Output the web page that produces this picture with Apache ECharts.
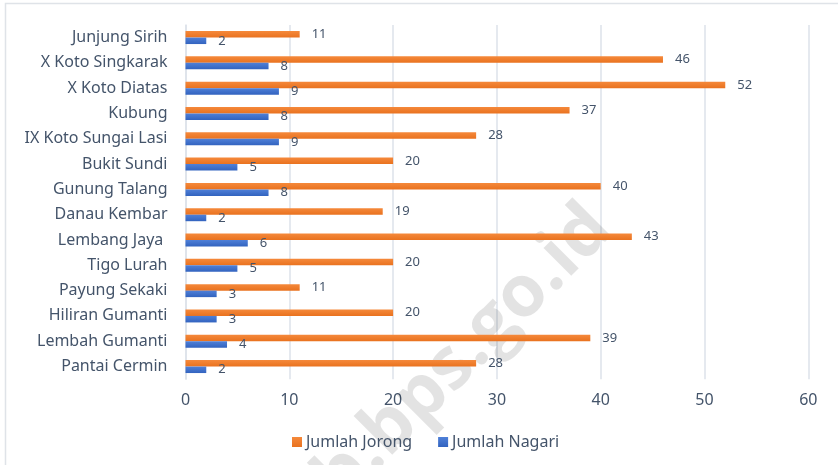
<!DOCTYPE html>
<html>
<head>
<meta charset="utf-8">
<script src="https://cdn.jsdelivr.net/npm/echarts@6/dist/echarts.min.js"></script>
<style>
  html, body { margin: 0; padding: 0; background: #fff; }
  #chart { width: 838px; height: 465px; }
</style>
</head>
<body>
<div id="chart"></div>
<script>
// kecamatan, top to bottom as shown
const categories = [
  'Junjung Sirih', 'X Koto Singkarak', 'X Koto Diatas', 'Kubung',
  'IX Koto Sungai Lasi', 'Bukit Sundi', 'Gunung Talang', 'Danau Kembar',
  'Lembang Jaya ', 'Tigo Lurah', 'Payung Sekaki', 'Hiliran Gumanti',
  'Lembah Gumanti', 'Pantai Cermin'
];
const jorong = [11, 46, 52, 37, 28, 20, 40, 19, 43, 20, 11, 20, 39, 28];
const nagari = [2, 8, 9, 8, 9, 5, 8, 2, 6, 5, 3, 3, 4, 2];

const textColor = '#44546A';
const font = '"Noto Sans", sans-serif';

const chart = echarts.init(document.getElementById('chart'));

const label = {
  show: true,
  position: 'right',
  distance: 12,
  color: textColor,
  fontFamily: font,
  fontSize: 13
};

chart.setOption({
  backgroundColor: '#ffffff',
  animation: false,
  graphic: [
    {
      type: 'rect',
      shape: { x: 5.5, y: 3.5, width: 850, height: 480 },
      style: { fill: 'none', stroke: '#dfe3e8', lineWidth: 1.5 },
      z: 0
    },
    {
      type: 'text',
      x: 626,
      y: 243,
      rotation: Math.PI / 4,
      style: {
        text: 'solokkab.bps.go.id',
        font: 'bold 72px "Open Sans", sans-serif',
        fill: 'rgba(0,0,0,0.11)',
        textAlign: 'right',
        textVerticalAlign: 'bottom'
      },
      z: 1
    }
  ],
  grid: {
    left: 185.5,
    right: 29.7,
    top: 24.9,
    bottom: 85.8,
    containLabel: false
  },
  legend: {
    data: ['Jumlah Jorong', 'Jumlah Nagari'],
    left: 287,
    top: 429,
    itemWidth: 10,
    itemHeight: 10,
    itemGap: 26,
    icon: 'rect',
    textStyle: { color: textColor, fontFamily: font, fontSize: 16, padding: [0, 0, 0, -1] }
  },
  xAxis: {
    type: 'value',
    min: 0,
    max: 60,
    interval: 10,
    axisLine: { show: false },
    axisTick: { show: false },
    axisLabel: { color: textColor, fontFamily: font, fontSize: 16, margin: 13 },
    splitLine: { lineStyle: { color: '#dde2ea', width: 1.5 } }
  },
  yAxis: {
    type: 'category',
    inverse: true,
    data: categories,
    axisLine: { show: true, lineStyle: { color: '#dde2ea', width: 1.5 } },
    axisTick: { show: false },
    axisLabel: { color: textColor, fontFamily: font, fontSize: 16, margin: 18 }
  },
  series: [
    {
      name: 'Jumlah Jorong',
      type: 'bar',
      data: jorong,
      barWidth: 6.5,
      barGap: '0%',
      label: label,
      itemStyle: {
        color: new echarts.graphic.LinearGradient(0, 0, 0, 1, [
          { offset: 0, color: '#F5893B' },
          { offset: 1, color: '#E9721F' }
        ])
      }
    },
    {
      name: 'Jumlah Nagari',
      type: 'bar',
      data: nagari,
      barWidth: 6.5,
      barGap: '0%',
      label: label,
      itemStyle: {
        color: new echarts.graphic.LinearGradient(0, 0, 0, 1, [
          { offset: 0, color: '#4F80D8' },
          { offset: 1, color: '#3263BF' }
        ])
      }
    }
  ]
});
</script>
</body>
</html>
